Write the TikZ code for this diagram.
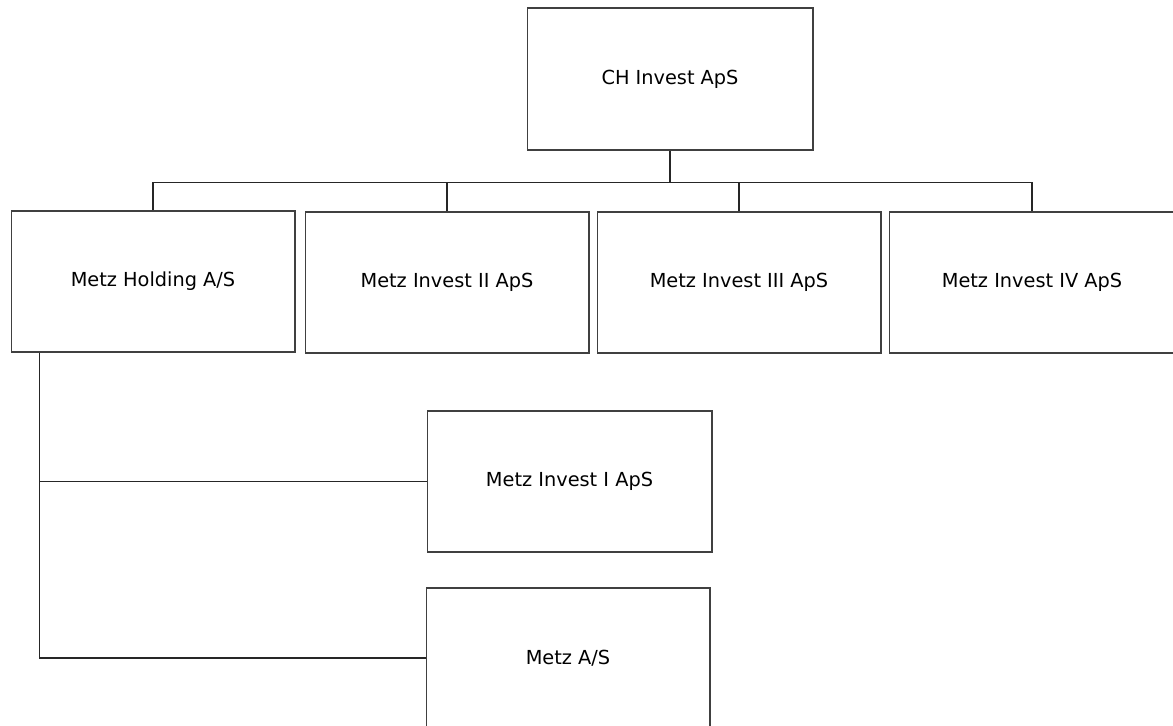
\documentclass[tikz,border=0pt]{standalone}
\usepackage{fontspec}
\setmainfont{DejaVu Sans}
\usepackage{tikz}
\usetikzlibrary{positioning}

\begin{document}
\begin{tikzpicture}[
    x=0.02cm, y=-0.02cm,
    company/.style = {rectangle, draw=black!75, line width=0.6pt, minimum width=5.68cm, minimum height=2.82cm, inner sep=0pt, font=\fontsize{11}{13}\selectfont},
    link/.style = {draw=black!85, line width=0.6pt},
]
    \useasboundingbox (0,0) rectangle (1173,726);
    \clip (0,0) rectangle (1173,726);

    % owner
    \node[company, minimum width=5.72cm, minimum height=2.84cm] (ch) at (670,79) {CH Invest ApS};

    % first level
    \node[company] (holding) at (153,281.5) {Metz Holding A/S};
    \node[company] (inv2) at (447,282.5) {Metz Invest II ApS};
    \node[company] (inv3) at (739,282.5) {Metz Invest III ApS};
    \node[company, minimum width=5.72cm] (inv4) at (1032,282.5) {Metz Invest IV ApS};

    % second level
    \node[company, minimum width=5.7cm] (inv1) at (569.5,481.5) {Metz Invest I ApS};
    \node[company, minimum height=2.8cm] (metz) at (568,658) {Metz A/S};

    % links
    \coordinate (bar) at ([yshift=-0.64cm]ch.south);
    \draw[link] (ch.south) -- (bar);
    \draw[link] (holding.north) |- (bar) -| (inv4.north);
    \draw[link] (inv2.north) |- (bar);
    \draw[link] (inv3.north) |- (bar);

    \coordinate (drop) at ([xshift=0.58cm]holding.south west);
    \draw[link] (drop) |- (inv1.west);
    \draw[link] (drop) |- (metz.west);

\end{tikzpicture}
\end{document}
